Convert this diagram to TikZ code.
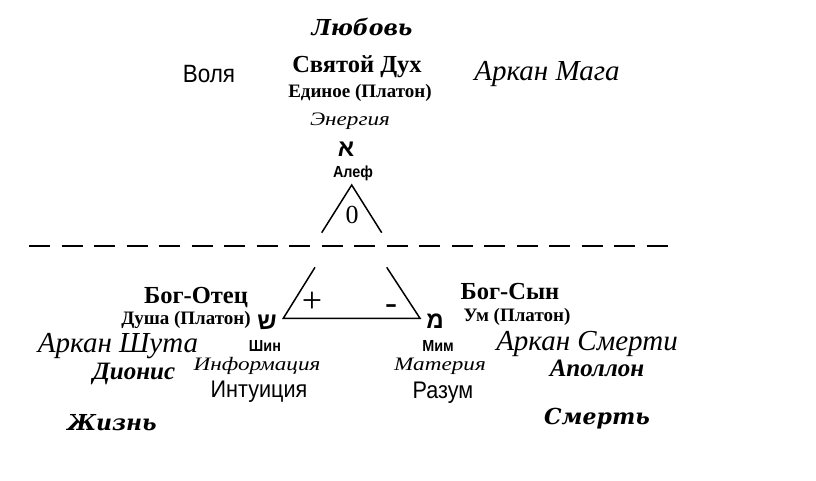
\documentclass[tikz,border=0pt]{standalone}
\usepackage{fontspec}
\setmainfont{Liberation Serif}
\newfontfamily\narrowsans[FakeStretch=0.9]{Liberation Sans}
\newfontfamily\wideserif[FakeStretch=1.22]{Liberation Serif}
\newfontfamily\hebfont[Script=Hebrew]{Liberation Sans}
\newfontfamily\heavyserif{DejaVu Serif}
\newcommand{\fsz}[1]{\fontsize{#1}{#1}\selectfont}

\tikzstyle{side}=[draw=black,line width=1.5pt]
\tikzstyle{divider}=[draw=black,line width=1.2pt,dash pattern=on 21pt off 11.5pt]
\tikzstyle{word}=[inner sep=0pt,anchor=base]
\tikzstyle{title}=[word,font=\bfseries\fsz{24.5}]
\tikzstyle{platon}=[word,font=\bfseries\fsz{19}]
\tikzstyle{aspect}=[word,font=\wideserif\itshape\fsz{19}]
\tikzstyle{arcan}=[word,font=\itshape\fsz{29}]
\tikzstyle{god}=[word,font=\bfseries\itshape\fsz{25}]
\tikzstyle{force}=[word,font=\heavyserif\bfseries\itshape\fsz{22}]
\tikzstyle{faculty}=[word,font=\narrowsans\fsz{24}]
\tikzstyle{lettername}=[word,font=\narrowsans\bfseries\fsz{16}]
\tikzstyle{letter}=[word,font=\hebfont\bfseries\fsz{24}]
\tikzstyle{sign}=[word,font=\fsz{26}]

\begin{document}
\begin{tikzpicture}[x=1pt,y=-1pt]

   \useasboundingbox (0,0) rectangle (816,480);

   % upper triangle (aleph)
   \draw[side] (321.7,232.7) coordinate(t1l) -- (351.7,185) coordinate(t1a)
-- (381.7,232.7) coordinate(t1r);
   % lower triangle (shin - mem)
   \draw[side] (315,267.3) coordinate(t2tl) -- (283.3,318.3) coordinate(t2bl)
-- (420,318.3) coordinate(t2br) -- (386.7,267.3) coordinate(t2tr);

   \draw[divider] (29,246) coordinate(dl) -- (671,246) coordinate(dr);

   \node[sign] (zero) at (352,223) {0};
   \node[sign,font=\fsz{36}] (plus) at (312,312.5) {+};
   \node[sign,font=\fsz{36}] (minus) at (391,314) {-};

   % top
   \node[force] (love) at (362,35) {Любовь};
   \node[faculty,font=\narrowsans\fsz{25}] (will) at (209,82) {Воля};
   \node[title] (spirit) at (357,72) {Святой Дух};
   \node[platon] (one) at (360,97) {Единое (Платон)};
   \node[aspect] (energy) at (350,125) {Энергия};
   \node[letter] (aleph) at (346,156) {א};
   \node[lettername] (alephname) at (353,177) {Алеф};
   \node[arcan] (mage) at (547,80) {Аркан Мага};

   % left
   \node[title] (father) at (196,303) {Бог-Отец};
   \node[platon] (soul) at (186,324) {Душа (Платон)};
   \node[letter] (shin) at (267,329) {ש};
   \node[arcan] (fool) at (118,352) {Аркан Шута};
   \node[god] (dionis) at (134,379) {Дионис};
   \node[lettername] (shinname) at (265,351) {Шин};
   \node[aspect] (info) at (257,370) {Информация};
   \node[faculty] (intuition) at (259,397) {Интуиция};
   \node[force] (life) at (112,430) {Жизнь};

   % right
   \node[title] (son) at (510,299) {Бог-Сын};
   \node[platon] (mind) at (517,321) {Ум (Платон)};
   \node[letter] (mem) at (435,328) {מ};
   \node[lettername] (memname) at (438,351) {Мим};
   \node[aspect] (matter) at (440,370) {Материя};
   \node[faculty] (reason) at (443,398) {Разум};
   \node[arcan] (death) at (587,350) {Аркан Смерти};
   \node[god] (apollo) at (597,376) {Аполлон};
   \node[force] (mortal) at (597,424) {Смерть};

\end{tikzpicture}
\end{document}
